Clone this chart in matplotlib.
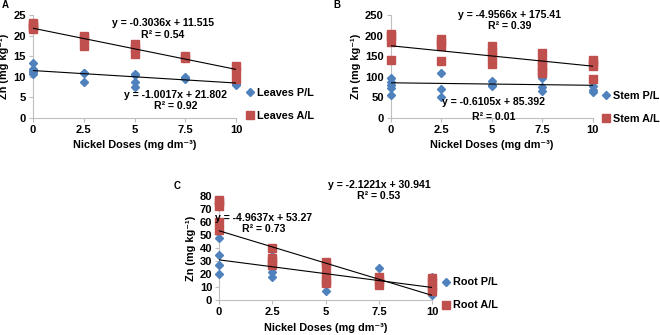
import numpy as np
import matplotlib
matplotlib.use("Agg")
import matplotlib.pyplot as plt

plt.rcParams['font.family'] = ['Liberation Sans', 'DejaVu Sans']
plt.rcParams['font.weight'] = 'bold'

blue = '#4F81BD'
red = '#C0504D'

doses = [0, 2.5, 5, 7.5, 10]

# Leaves (panel A)
leaves_pl = [[13.3, 11.9, 11.5, 11.2, 10.6], [11.0, 10.8, 8.8], [10.7, 10.4, 8.8, 7.6],
             [10.0, 9.7, 9.4], [8.3, 7.9]]
leaves_al = [[23.0, 22.5, 22.0, 21.5], [20.0, 19.5, 17.5], [18.0, 17.0, 15.5],
             [15.0, 14.6], [12.5, 11.5, 9.5]]
# Stem (panel B)
stem_pl = [[97, 88, 80, 72, 55], [110, 70, 52], [90, 80, 77], [100, 97, 75, 65], [78, 67, 63]]
stem_al = [[205, 198, 185, 140], [192, 185, 175, 138], [175, 160, 150, 130],
           [157, 135, 125, 115, 108], [140, 133, 125, 95]]
# Root (panel C)
root_pl = [[48, 35, 27, 20], [34, 25, 22, 18], [25, 20, 7], [25, 15, 13], [18, 5, 4]]
root_al = [[77, 75, 72, 60, 54], [40, 32, 30, 27], [29, 27, 20, 15, 13], [18, 15, 12],
           [17, 14, 10, 7]]

# trendlines (slope, intercept) for P/L and A/L
fit_leaves = [(-0.3036, 11.515), (-1.0017, 21.802)]
fit_stem = [(-0.6105, 85.392), (-4.9566, 175.41)]
fit_root = [(-2.1221, 30.941), (-4.9637, 53.27)]

def flat(groups):
    xs, ys = [], []
    for d, g in zip(doses, groups):
        xs += [d] * len(g)
        ys += g
    return xs, ys

def panel(rect, pl, al, fits, ymax, ystep, names, leg_y, eqs):
    ax = fig.add_axes(rect)
    x, y = flat(pl)
    ax.plot(x, y, 'D', color=blue, ms=4, mec=blue, clip_on=False, zorder=3, label=names[0])
    x, y = flat(al)
    ax.plot(x, y, 's', color=red, ms=6, mec=red, clip_on=False, zorder=3, label=names[1])
    xx = np.array([0, 10])
    for m, b in fits:
        ax.plot(xx, m * xx + b, color='black', lw=0.8, zorder=4)
    ax.set_xlim(0, 10)
    ax.set_ylim(0, ymax)
    ax.set_xticks(doses)
    ax.set_xticklabels(['0', '2.5', '5', '7.5', '10'])
    ax.set_yticks(np.arange(0, ymax + 1, ystep))
    for s in ['top', 'right']:
        ax.spines[s].set_visible(False)
    for s in ['left', 'bottom']:
        ax.spines[s].set_color('#BFBFBF')
    ax.tick_params(colors='#BFBFBF', labelcolor='black', labelsize=8, length=3, pad=2)
    ax.set_xlabel('Nickel Doses (mg dm⁻³)', fontsize=7.8, fontweight='bold', labelpad=4)
    ax.set_ylabel('Zn (mg kg⁻¹)', fontsize=7.8, fontweight='bold', labelpad=3)
    ax.legend(loc='center left', bbox_to_anchor=(1.04, leg_y), frameon=False, fontsize=7.8,
              handletextpad=0.15, labelspacing=1.2, handlelength=1.0, borderaxespad=0,
              borderpad=0)
    for tx, ty, t in eqs:
        ax.text(tx, ty, t, transform=ax.transAxes, ha='center', va='center', fontsize=7.6,
                fontweight='bold')
    return ax

fig = plt.figure(figsize=(6.6, 3.35), dpi=100)

panel([0.05, 0.648, 0.308, 0.307], leaves_pl, leaves_al, fit_leaves, 25, 5,
      ['Leaves P/L', 'Leaves A/L'], 0.135,
      [(0.64, 0.92, 'y = -0.3036x + 11.515'), (0.64, 0.81, 'R² = 0.54'),
       (0.70, 0.225, 'y = -1.0017x + 21.802'), (0.70, 0.115, 'R² = 0.92')])
panel([0.592, 0.648, 0.306, 0.307], stem_pl, stem_al, fit_stem, 250, 50,
      ['Stem P/L', 'Stem A/L'], 0.105,
      [(0.59, 1.0, 'y = -4.9566x + 175.41'), (0.59, 0.89, 'R² = 0.39'),
       (0.51, 0.155, 'y = -0.6105x + 85.392'), (0.51, 0.01, 'R² = 0.01')])
panel([0.332, 0.104, 0.323, 0.311], root_pl, root_al, fit_root, 80, 10,
      ['Root P/L', 'Root A/L'], 0.06,
      [(0.75, 1.11, 'y = -2.1221x + 30.941'), (0.75, 0.995, 'R² = 0.53'),
       (0.21, 0.79, 'y = -4.9637x + 53.27'), (0.21, 0.68, 'R² = 0.73')])

fig.text(2 / 660, 1 - 5 / 335, 'A', fontsize=7, fontweight='bold', va='center')
fig.text(333 / 660, 1 - 5 / 335, 'B', fontsize=7, fontweight='bold', va='center')
fig.text(174 / 660, 1 - 186 / 335, 'C', fontsize=7, fontweight='bold', va='center')

fig.savefig('out.png', dpi=100)
